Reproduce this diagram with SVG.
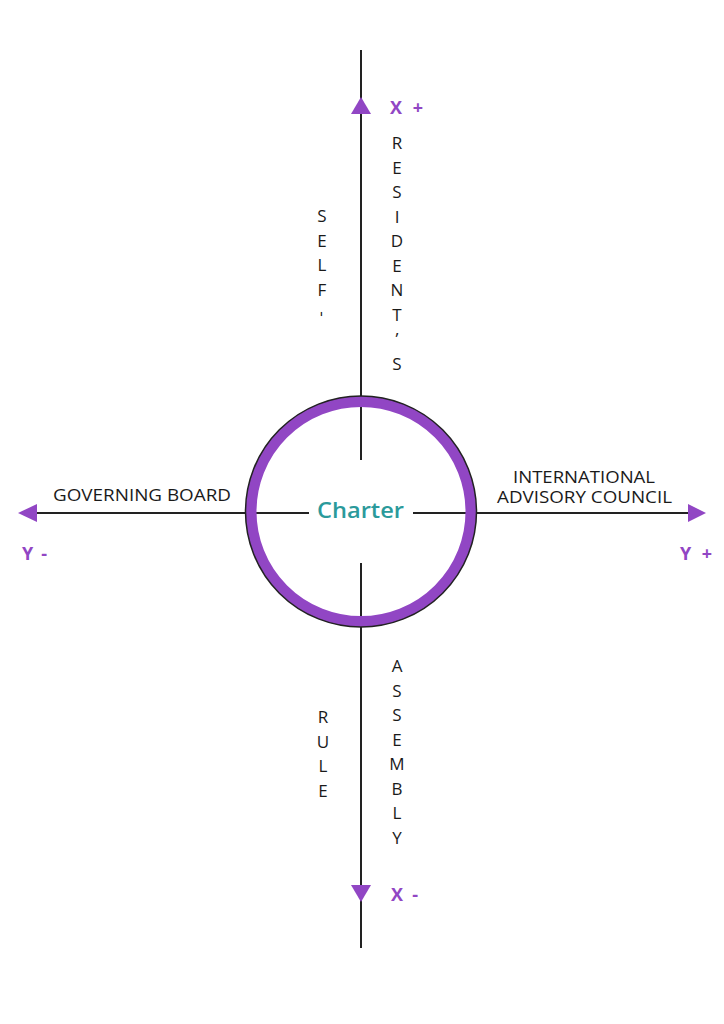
<svg xmlns="http://www.w3.org/2000/svg" width="724" height="1024" viewBox="0 0 724 1024">
<style>
.ax{stroke:#222;stroke-width:2;fill:none}
.head{fill:#9146c4}
.lbl{font-family:"Open Sans","Liberation Sans",sans-serif;font-size:16px;font-weight:500;fill:#1a1a1a}
.vl{font-family:"Open Sans","Liberation Sans",sans-serif;font-size:17px;font-weight:500;fill:#1a1a1a;text-anchor:middle}
.dir{font-family:"Open Sans","Liberation Sans",sans-serif;font-size:18px;font-weight:700;fill:#9146c4}
.ctr{font-family:"Open Sans","Liberation Sans",sans-serif;font-size:21px;font-weight:600;fill:#2b9a9b}
</style>
<rect width="724" height="1024" fill="#ffffff"/>
<g id="connectors">
<line class="ax" x1="361" y1="50" x2="361" y2="460"/>
<line class="ax" x1="361" y1="563" x2="361" y2="948"/>
<line class="ax" x1="30" y1="513" x2="309" y2="513"/>
<line class="ax" x1="413" y1="513" x2="692" y2="513"/>
<polygon class="head" points="361,97 351,114 371,114"/>
<polygon class="head" points="361,902 351,885 371,885"/>
<polygon class="head" points="18,513 37,504 37,522"/>
<polygon class="head" points="706,513 688,504 688,522"/>
</g>
<g id="charter">
<circle cx="361" cy="511.5" r="110" fill="none" stroke="#9146c4" stroke-width="11"/>
<circle cx="361" cy="511.5" r="115.5" fill="none" stroke="#222" stroke-width="1.5"/>
<text class="ctr" x="317" y="518" textLength="87" lengthAdjust="spacingAndGlyphs">Charter</text>
</g>
<g id="x-plus">
<text class="dir" x="390" y="114" textLength="33">X +</text>
</g>
<g id="x-minus">
<text class="dir" x="391" y="901" textLength="27">X -</text>
</g>
<g id="y-minus">
<text class="dir" x="22" y="560" textLength="25">Y -</text>
</g>
<g id="y-plus">
<text class="dir" x="680" y="560" textLength="32">Y +</text>
</g>
<g id="governing-board">
<text class="lbl" x="53" y="501" textLength="178" lengthAdjust="spacingAndGlyphs">GOVERNING BOARD</text>
</g>
<g id="international-advisory-council">
<text class="lbl" x="513" y="483" textLength="142" lengthAdjust="spacingAndGlyphs">INTERNATIONAL</text>
<text class="lbl" x="497" y="503" textLength="175" lengthAdjust="spacingAndGlyphs">ADVISORY COUNCIL</text>
</g>
<g id="residents">
<text class="vl"><tspan x="397" y="149">R</tspan><tspan x="397" y="173.5">E</tspan><tspan x="397" y="198">S</tspan><tspan x="397" y="222.5">I</tspan><tspan x="397" y="247">D</tspan><tspan x="397" y="271.5">E</tspan><tspan x="397" y="296">N</tspan><tspan x="397" y="320.5">T</tspan><tspan x="397" y="345">’</tspan><tspan x="397" y="369.5">S</tspan></text>
</g>
<g id="self">
<text class="vl"><tspan x="322" y="222">S</tspan><tspan x="322" y="246.5">E</tspan><tspan x="322" y="271">L</tspan><tspan x="322" y="295.5">F</tspan></text>
<text class="vl" transform="translate(322 314) rotate(90)" x="0" y="5">-</text>
</g>
<g id="rule">
<text class="vl"><tspan x="323" y="723">R</tspan><tspan x="323" y="747.5">U</tspan><tspan x="323" y="772">L</tspan><tspan x="323" y="796.5">E</tspan></text>
</g>
<g id="assembly">
<text class="vl"><tspan x="397" y="672">A</tspan><tspan x="397" y="696.5">S</tspan><tspan x="397" y="721">S</tspan><tspan x="397" y="745.5">E</tspan><tspan x="397" y="770">M</tspan><tspan x="397" y="794.5">B</tspan><tspan x="397" y="819">L</tspan><tspan x="397" y="843.5">Y</tspan></text>
</g>
</svg>
